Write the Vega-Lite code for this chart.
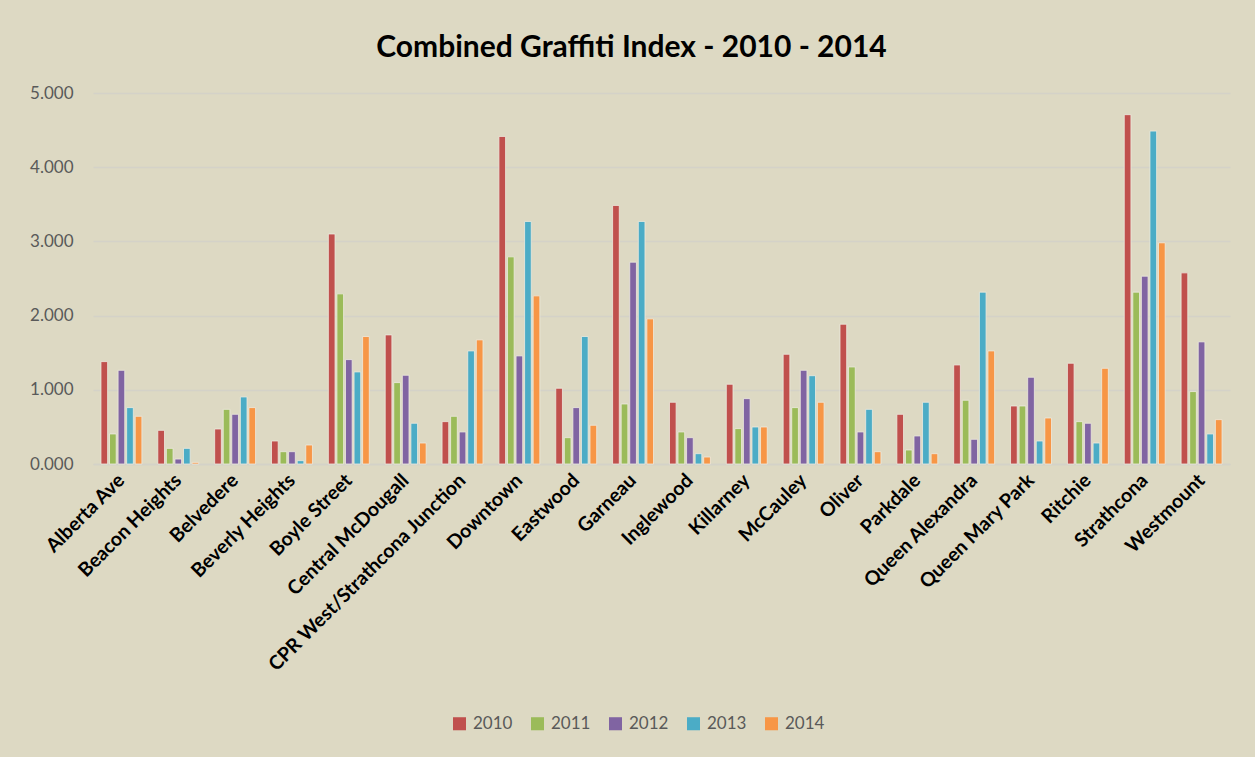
{
  "$schema": "https://vega.github.io/schema/vega-lite/v6.json",
  "width": 1137,
  "height": 371,
  "autosize": {"type": "none"},
  "padding": {"left": 93, "top": 93, "right": 25, "bottom": 293},
  "background": "#DDD9C3",
  "title": {
    "text": "Combined Graffiti Index - 2010 - 2014",
    "font": "Lato",
    "fontSize": 30,
    "fontWeight": "bold",
    "color": "#000000",
    "anchor": "middle",
    "frame": "group",
    "offset": 21,
    "dx": -30
  },
  "data": {
    "values": [
      {"n": "Alberta Ave", "year": "2010", "v": 1.38},
      {"n": "Alberta Ave", "year": "2011", "v": 0.405},
      {"n": "Alberta Ave", "year": "2012", "v": 1.263},
      {"n": "Alberta Ave", "year": "2013", "v": 0.76},
      {"n": "Alberta Ave", "year": "2014", "v": 0.643},
      {"n": "Beacon Heights", "year": "2010", "v": 0.454},
      {"n": "Beacon Heights", "year": "2011", "v": 0.211},
      {"n": "Beacon Heights", "year": "2012", "v": 0.067},
      {"n": "Beacon Heights", "year": "2013", "v": 0.211},
      {"n": "Beacon Heights", "year": "2014", "v": 0.022},
      {"n": "Belvedere", "year": "2010", "v": 0.472},
      {"n": "Belvedere", "year": "2011", "v": 0.737},
      {"n": "Belvedere", "year": "2012", "v": 0.67},
      {"n": "Belvedere", "year": "2013", "v": 0.904},
      {"n": "Belvedere", "year": "2014", "v": 0.76},
      {"n": "Beverly Heights", "year": "2010", "v": 0.31},
      {"n": "Beverly Heights", "year": "2011", "v": 0.166},
      {"n": "Beverly Heights", "year": "2012", "v": 0.166},
      {"n": "Beverly Heights", "year": "2013", "v": 0.045},
      {"n": "Beverly Heights", "year": "2014", "v": 0.256},
      {"n": "Boyle Street", "year": "2010", "v": 3.1},
      {"n": "Boyle Street", "year": "2011", "v": 2.293},
      {"n": "Boyle Street", "year": "2012", "v": 1.407},
      {"n": "Boyle Street", "year": "2013", "v": 1.241},
      {"n": "Boyle Street", "year": "2014", "v": 1.718},
      {"n": "Central McDougall", "year": "2010", "v": 1.74},
      {"n": "Central McDougall", "year": "2011", "v": 1.097},
      {"n": "Central McDougall", "year": "2012", "v": 1.196},
      {"n": "Central McDougall", "year": "2013", "v": 0.549},
      {"n": "Central McDougall", "year": "2014", "v": 0.283},
      {"n": "CPR West/Strathcona Junction", "year": "2010", "v": 0.571},
      {"n": "CPR West/Strathcona Junction", "year": "2011", "v": 0.643},
      {"n": "CPR West/Strathcona Junction", "year": "2012", "v": 0.432},
      {"n": "CPR West/Strathcona Junction", "year": "2013", "v": 1.524},
      {"n": "CPR West/Strathcona Junction", "year": "2014", "v": 1.673},
      {"n": "Downtown", "year": "2010", "v": 4.415},
      {"n": "Downtown", "year": "2011", "v": 2.792},
      {"n": "Downtown", "year": "2012", "v": 1.457},
      {"n": "Downtown", "year": "2013", "v": 3.269},
      {"n": "Downtown", "year": "2014", "v": 2.266},
      {"n": "Eastwood", "year": "2010", "v": 1.021},
      {"n": "Eastwood", "year": "2011", "v": 0.355},
      {"n": "Eastwood", "year": "2012", "v": 0.76},
      {"n": "Eastwood", "year": "2013", "v": 1.718},
      {"n": "Eastwood", "year": "2014", "v": 0.522},
      {"n": "Garneau", "year": "2010", "v": 3.485},
      {"n": "Garneau", "year": "2011", "v": 0.809},
      {"n": "Garneau", "year": "2012", "v": 2.72},
      {"n": "Garneau", "year": "2013", "v": 3.269},
      {"n": "Garneau", "year": "2014", "v": 1.956},
      {"n": "Inglewood", "year": "2010", "v": 0.832},
      {"n": "Inglewood", "year": "2011", "v": 0.432},
      {"n": "Inglewood", "year": "2012", "v": 0.355},
      {"n": "Inglewood", "year": "2013", "v": 0.139},
      {"n": "Inglewood", "year": "2014", "v": 0.094},
      {"n": "Killarney", "year": "2010", "v": 1.075},
      {"n": "Killarney", "year": "2011", "v": 0.477},
      {"n": "Killarney", "year": "2012", "v": 0.881},
      {"n": "Killarney", "year": "2013", "v": 0.499},
      {"n": "Killarney", "year": "2014", "v": 0.499},
      {"n": "McCauley", "year": "2010", "v": 1.479},
      {"n": "McCauley", "year": "2011", "v": 0.76},
      {"n": "McCauley", "year": "2012", "v": 1.263},
      {"n": "McCauley", "year": "2013", "v": 1.19},
      {"n": "McCauley", "year": "2014", "v": 0.832},
      {"n": "Oliver", "year": "2010", "v": 1.884},
      {"n": "Oliver", "year": "2011", "v": 1.308},
      {"n": "Oliver", "year": "2012", "v": 0.432},
      {"n": "Oliver", "year": "2013", "v": 0.737},
      {"n": "Oliver", "year": "2014", "v": 0.166},
      {"n": "Parkdale", "year": "2010", "v": 0.67},
      {"n": "Parkdale", "year": "2011", "v": 0.189},
      {"n": "Parkdale", "year": "2012", "v": 0.378},
      {"n": "Parkdale", "year": "2013", "v": 0.832},
      {"n": "Parkdale", "year": "2014", "v": 0.139},
      {"n": "Queen Alexandra", "year": "2010", "v": 1.335},
      {"n": "Queen Alexandra", "year": "2011", "v": 0.859},
      {"n": "Queen Alexandra", "year": "2012", "v": 0.333},
      {"n": "Queen Alexandra", "year": "2013", "v": 2.316},
      {"n": "Queen Alexandra", "year": "2014", "v": 1.524},
      {"n": "Queen Mary Park", "year": "2010", "v": 0.782},
      {"n": "Queen Mary Park", "year": "2011", "v": 0.782},
      {"n": "Queen Mary Park", "year": "2012", "v": 1.169},
      {"n": "Queen Mary Park", "year": "2013", "v": 0.31},
      {"n": "Queen Mary Park", "year": "2014", "v": 0.62},
      {"n": "Ritchie", "year": "2010", "v": 1.358},
      {"n": "Ritchie", "year": "2011", "v": 0.571},
      {"n": "Ritchie", "year": "2012", "v": 0.549},
      {"n": "Ritchie", "year": "2013", "v": 0.283},
      {"n": "Ritchie", "year": "2014", "v": 1.29},
      {"n": "Strathcona", "year": "2010", "v": 4.708},
      {"n": "Strathcona", "year": "2011", "v": 2.316},
      {"n": "Strathcona", "year": "2012", "v": 2.531},
      {"n": "Strathcona", "year": "2013", "v": 4.487},
      {"n": "Strathcona", "year": "2014", "v": 2.981},
      {"n": "Westmount", "year": "2010", "v": 2.576},
      {"n": "Westmount", "year": "2011", "v": 0.976},
      {"n": "Westmount", "year": "2012", "v": 1.646},
      {"n": "Westmount", "year": "2013", "v": 0.405},
      {"n": "Westmount", "year": "2014", "v": 0.598}
    ]
  },
  "mark": {"type": "bar", "stroke": "#EDEBDF", "strokeWidth": 0.8},
  "encoding": {
    "x": {
      "field": "n",
      "type": "nominal",
      "sort": null,
      "title": null,
      "scale": {"paddingInner": 0.28, "paddingOuter": 0.14},
      "axis": {
        "labelAngle": -45,
        "labelAlign": "right",
        "labelBaseline": "middle",
        "labelFont": "Lato",
        "labelFontSize": 19.5,
        "labelFontWeight": "bold",
        "labelColor": "#000000",
        "labelPadding": 13,
        "ticks": false,
        "domainColor": "#D4D2C8",
        "domainWidth": 1.5,
        "labelOverlap": false,
        "labelLimit": 400
      }
    },
    "xOffset": {"field": "year", "type": "nominal", "scale": {"paddingInner": 0.22}},
    "y": {
      "field": "v",
      "type": "quantitative",
      "title": null,
      "scale": {"domain": [0, 5]},
      "axis": {
        "values": [0, 1, 2, 3, 4, 5],
        "format": ".3f",
        "labelFont": "Lato",
        "labelFontSize": 17,
        "labelColor": "#595959",
        "labelPadding": 20,
        "ticks": false,
        "domain": false,
        "gridColor": "#D4D2C8",
        "gridWidth": 1.5
      }
    },
    "color": {
      "field": "year",
      "type": "nominal",
      "scale": {
        "domain": ["2010", "2011", "2012", "2013", "2014"],
        "range": ["#C0504D", "#9BBB59", "#8064A2", "#4BACC6", "#F79646"]
      },
      "legend": {
        "title": null,
        "orient": "none",
        "direction": "horizontal",
        "legendX": 358,
        "legendY": 622,
        "symbolType": "square",
        "symbolSize": 170,
        "symbolStrokeWidth": 0,
        "labelFont": "Lato",
        "labelFontSize": 17,
        "labelColor": "#595959",
        "labelOffset": 5,
        "columnPadding": 16
      }
    }
  },
  "config": {"view": {"stroke": null}}
}
